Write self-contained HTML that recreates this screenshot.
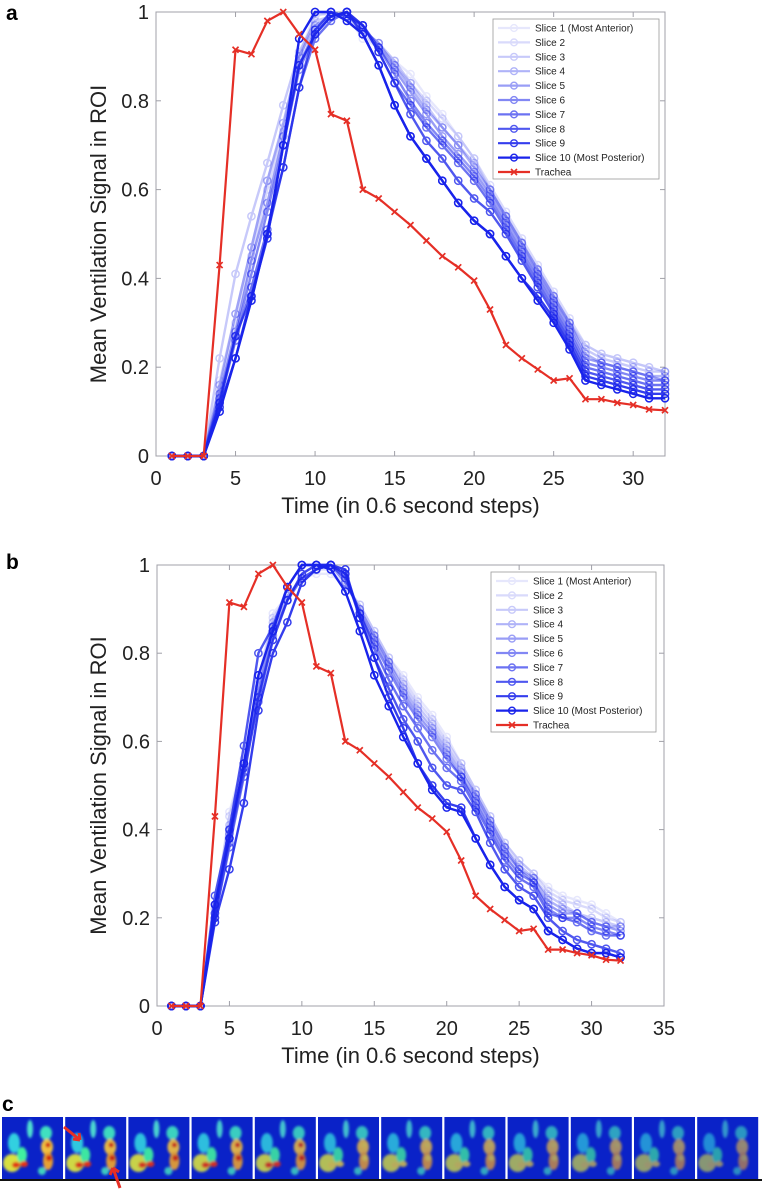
<!DOCTYPE html>
<html><head><meta charset="utf-8"><style>
html,body{margin:0;padding:0;background:#fff;}
svg{display:block;font-family:"Liberation Sans",Arial,sans-serif;}
</style></head><body>
<svg id="fig" width="762" height="1189" viewBox="0 0 762 1189" xmlns="http://www.w3.org/2000/svg">
<defs>
<filter id="blur" x="-20%" y="-20%" width="140%" height="140%"><feGaussianBlur stdDeviation="1.3"/></filter>
<clipPath id="tileclip"><rect x="0" y="0" width="61" height="62"/></clipPath>
</defs>
<text x="6" y="20" font-size="21" font-weight="bold">a</text>
<text x="6" y="569" font-size="21" font-weight="bold">b</text>
<text x="2" y="1111" font-size="21" font-weight="bold">c</text>
<g id="panelA"></g>
<g id="panelB"></g>
<g id="panelC"></g>
</svg>
<script>
const timeSteps = [1,2,3,4,5,6,7,8,9,10,11,12,13,14,15,16,17,18,19,20,21,22,23,24,25,26,27,28,29,30,31,32];
const seriesNames = ["Slice 1 (Most Anterior)","Slice 2","Slice 3","Slice 4","Slice 5","Slice 6","Slice 7","Slice 8","Slice 9","Slice 10 (Most Posterior)","Trachea"];
const tracheaValues = [0,0,0,0.43,0.915,0.905,0.98,1.0,0.95,0.915,0.77,0.755,0.60,0.58,0.55,0.52,0.485,0.45,0.425,0.395,0.33,0.25,0.22,0.195,0.17,0.175,0.128,0.128,0.12,0.115,0.105,0.103];
const aSlice1 = [0,0,0,0.17,0.32,0.47,0.62,0.74,0.90,1.0,0.99,0.99,0.94,0.92,0.89,0.86,0.81,0.77,0.72,0.67,0.60,0.54,0.48,0.41,0.35,0.30,0.25,0.23,0.22,0.21,0.20,0.19];
const aSlice2 = [0,0,0,0.15,0.30,0.45,0.60,0.73,0.89,0.99,1.0,0.99,0.95,0.92,0.88,0.84,0.80,0.76,0.72,0.67,0.61,0.55,0.49,0.43,0.37,0.31,0.25,0.23,0.22,0.21,0.20,0.19];
const aSlice3 = [0,0,0,0.22,0.41,0.54,0.66,0.79,0.91,0.98,0.99,1.0,0.96,0.93,0.89,0.84,0.79,0.74,0.70,0.66,0.60,0.54,0.48,0.42,0.36,0.30,0.24,0.22,0.21,0.20,0.19,0.19];
const aSlice4 = [0,0,0,0.16,0.32,0.47,0.62,0.75,0.90,0.97,0.99,1.0,0.96,0.93,0.88,0.83,0.78,0.74,0.70,0.65,0.60,0.54,0.48,0.42,0.36,0.30,0.23,0.21,0.20,0.19,0.18,0.18];
const aSlice5 = [0,0,0,0.14,0.28,0.44,0.57,0.72,0.88,0.96,0.99,1.0,0.97,0.92,0.87,0.82,0.77,0.72,0.68,0.64,0.59,0.53,0.47,0.41,0.35,0.29,0.22,0.21,0.20,0.19,0.18,0.17];
const aSlice6 = [0,0,0,0.13,0.27,0.41,0.55,0.70,0.87,0.95,0.99,1.0,0.97,0.92,0.86,0.80,0.75,0.71,0.67,0.63,0.58,0.52,0.46,0.40,0.34,0.28,0.21,0.20,0.19,0.18,0.17,0.17];
const aSlice7 = [0,0,0,0.12,0.26,0.38,0.51,0.65,0.83,0.94,0.98,1.0,0.97,0.91,0.84,0.79,0.74,0.70,0.66,0.62,0.57,0.51,0.45,0.39,0.33,0.27,0.20,0.19,0.18,0.17,0.16,0.16];
const aSlice8 = [0,0,0,0.12,0.27,0.36,0.50,0.65,0.83,0.96,1.0,0.99,0.97,0.91,0.84,0.77,0.71,0.67,0.62,0.58,0.55,0.50,0.44,0.38,0.32,0.26,0.19,0.18,0.17,0.16,0.15,0.15];
const aSlice9 = [0,0,0,0.11,0.22,0.36,0.49,0.70,0.88,0.95,0.99,1.0,0.95,0.88,0.79,0.72,0.67,0.62,0.57,0.53,0.50,0.45,0.40,0.36,0.31,0.25,0.18,0.17,0.16,0.15,0.14,0.14];
const aSlice10 = [0,0,0,0.10,0.22,0.35,0.50,0.70,0.94,1.0,1.0,0.98,0.95,0.88,0.79,0.72,0.67,0.62,0.57,0.53,0.50,0.45,0.40,0.35,0.30,0.24,0.17,0.16,0.15,0.14,0.13,0.13];
const bSlice1 = [0,0,0,0.22,0.44,0.56,0.74,0.89,0.93,0.97,0.98,0.98,0.95,0.91,0.85,0.79,0.75,0.70,0.66,0.61,0.55,0.49,0.43,0.37,0.33,0.30,0.27,0.25,0.24,0.23,0.21,0.19];
const bSlice2 = [0,0,0,0.22,0.43,0.55,0.73,0.88,0.93,0.97,0.99,0.99,0.95,0.91,0.85,0.79,0.74,0.69,0.65,0.60,0.55,0.49,0.43,0.37,0.33,0.30,0.26,0.24,0.23,0.22,0.20,0.19];
const bSlice3 = [0,0,0,0.21,0.41,0.55,0.72,0.87,0.93,0.97,0.99,1.0,0.96,0.90,0.84,0.78,0.73,0.68,0.64,0.59,0.54,0.48,0.42,0.36,0.32,0.29,0.25,0.23,0.21,0.20,0.19,0.18];
const bSlice4 = [0,0,0,0.21,0.40,0.54,0.71,0.86,0.92,0.97,0.99,1.0,0.96,0.90,0.84,0.78,0.72,0.67,0.63,0.58,0.53,0.48,0.42,0.36,0.31,0.29,0.24,0.22,0.21,0.19,0.18,0.18];
const bSlice5 = [0,0,0,0.21,0.39,0.54,0.70,0.84,0.92,0.97,0.99,1.0,0.97,0.89,0.83,0.77,0.71,0.66,0.62,0.57,0.52,0.47,0.41,0.35,0.31,0.28,0.23,0.21,0.21,0.19,0.18,0.17];
const bSlice6 = [0,0,0,0.20,0.37,0.53,0.69,0.83,0.92,0.98,1.0,1.0,0.97,0.89,0.82,0.76,0.70,0.65,0.61,0.56,0.52,0.46,0.40,0.34,0.30,0.28,0.22,0.20,0.20,0.18,0.17,0.16];
const bSlice7 = [0,0,0,0.20,0.36,0.52,0.70,0.83,0.92,0.98,1.0,1.0,0.98,0.89,0.81,0.74,0.68,0.63,0.58,0.54,0.51,0.45,0.39,0.33,0.29,0.27,0.21,0.20,0.19,0.17,0.16,0.16];
const bSlice8 = [0,0,0,0.25,0.40,0.59,0.80,0.86,0.95,1.0,1.0,1.0,0.98,0.88,0.79,0.72,0.65,0.60,0.54,0.50,0.49,0.44,0.37,0.31,0.27,0.25,0.20,0.17,0.15,0.14,0.13,0.12];
const bSlice9 = [0,0,0,0.19,0.31,0.46,0.67,0.80,0.87,0.96,0.99,1.0,0.99,0.88,0.79,0.70,0.63,0.55,0.50,0.46,0.45,0.38,0.32,0.27,0.24,0.22,0.17,0.15,0.13,0.12,0.12,0.11];
const bSlice10 = [0,0,0,0.23,0.38,0.55,0.75,0.85,0.95,1.0,1.0,0.99,0.94,0.85,0.75,0.68,0.61,0.55,0.49,0.45,0.44,0.38,0.32,0.27,0.24,0.22,0.17,0.15,0.13,0.12,0.12,0.11];
const yTicks = [0,0.2,0.4,0.6,0.8,1];
const yTickLabels = ["0","0.2","0.4","0.6","0.8","1"];
const xTicksA = [0,5,10,15,20,25,30];
const xTicksB = [0,5,10,15,20,25,30,35];

const NS = "http://www.w3.org/2000/svg";
function mk(tag, attrs, parent){const e=document.createElementNS(NS,tag);for(const k in attrs)e.setAttribute(k,attrs[k]);if(parent)parent.appendChild(e);return e;}
const sliceOpacity=[0.1,0.16,0.24,0.34,0.44,0.54,0.64,0.76,0.88,1.0];
const blue="rgb(25,35,235)", red="#e52f26";

function drawPanel(g, cfg){
  const xs=v=>cfg.x0+(v-cfg.xmin)/(cfg.xmax-cfg.xmin)*(cfg.x1-cfg.x0);
  const ys=v=>cfg.y0-(v-0)/(1-0)*(cfg.y0-cfg.y1);
  const box=mk('rect',{x:cfg.x0,y:cfg.y1,width:cfg.x1-cfg.x0,height:cfg.y0-cfg.y1,fill:'none',stroke:'#a0a0a8','stroke-width':1},g);
  
  
  cfg.xt.forEach(t=>{
    const X=xs(t);
    mk('line',{x1:X,x2:X,y1:cfg.y0,y2:cfg.y0-5,stroke:'#a0a0a8'},g);
    mk('line',{x1:X,x2:X,y1:cfg.y1,y2:cfg.y1+5,stroke:'#a0a0a8'},g);
    const tx=mk('text',{x:X,y:cfg.y0+29,'font-size':20,'text-anchor':'middle',fill:'#222'},g);
    tx.textContent=t;
    
    
  });
  yTicks.forEach((t,i)=>{
    const Y=ys(t);
    mk('line',{x1:cfg.x0,x2:cfg.x0+5,y1:Y,y2:Y,stroke:'#a0a0a8'},g);
    mk('line',{x1:cfg.x1,x2:cfg.x1-5,y1:Y,y2:Y,stroke:'#a0a0a8'},g);
    const tx=mk('text',{x:cfg.x0-7,y:Y+7,'font-size':20,'text-anchor':'end',fill:'#222'},g);
    tx.textContent=yTickLabels[i];
    
    
  });
  const xt=mk('text',{x:(cfg.x0+cfg.x1)/2,y:cfg.y0+57,'font-size':22,'text-anchor':'middle',fill:'#222'},g);
  xt.textContent="Time (in 0.6 second steps)";
  
  
  const cy=(cfg.y0+cfg.y1)/2;
  const yt=mk('text',{x:106,y:cy,'font-size':22,'text-anchor':'middle',fill:'#222',transform:`rotate(-90 106 ${cy})`},g);
  yt.textContent="Mean Ventilation Signal in ROI";
  
  
  cfg.slices.forEach((vals,k)=>{
    const sg=mk('g',{opacity:sliceOpacity[k]},g);
    
    
    const pts=vals.map((v,i)=>xs(timeSteps[i]).toFixed(1)+','+ys(v).toFixed(1)).join(' ');
    mk('polyline',{points:pts,fill:'none',stroke:blue,'stroke-width':2.4},sg);
    vals.forEach((v,i)=>{
      const c=mk('circle',{cx:xs(timeSteps[i]),cy:ys(v),r:3.6,fill:'none',stroke:blue,'stroke-width':1.5},sg);
      
      
    });
  });
  const tg=mk('g',{},g);
  
  
  const tp=tracheaValues.map((v,i)=>xs(timeSteps[i]).toFixed(1)+','+ys(v).toFixed(1)).join(' ');
  mk('polyline',{points:tp,fill:'none',stroke:red,'stroke-width':2.2},tg);
  tracheaValues.forEach((v,i)=>{
    const X=xs(timeSteps[i]),Y=ys(v);
    const m=mk('path',{d:`M${X-3},${Y-3}L${X+3},${Y+3}M${X-3},${Y+3}L${X+3},${Y-3}`,stroke:red,'stroke-width':1.7},tg);
    
    
  });
  const L=cfg.leg;
  const lg=mk('g',{},g);
  
  
  mk('rect',{x:L.x,y:L.y,width:L.w,height:L.h,fill:'#fff',stroke:'#999','stroke-width':0.8},lg);
  seriesNames.forEach((n,k)=>{
    const Y=L.y+9+k*L.step;
    const eg=mk('g',{opacity:k<10?sliceOpacity[k]:1},lg);
    
    
    const col=k<10?blue:red;
    mk('line',{x1:L.x+5,x2:L.x+37,y1:Y,y2:Y,stroke:col,'stroke-width':2.2},eg);
    if(k<10) mk('circle',{cx:L.x+21,cy:Y,r:3.4,fill:'none',stroke:col,'stroke-width':1.4},eg);
    else mk('path',{d:`M${L.x+18},${Y-3}L${L.x+24},${Y+3}M${L.x+18},${Y+3}L${L.x+24},${Y-3}`,stroke:col,'stroke-width':1.6},eg);
    const t=mk('text',{x:L.x+42,y:Y+3.5,'font-size':L.fs,fill:'#222'},lg);
    t.textContent=n;
    
    
  });
}

drawPanel(document.getElementById('panelA'),{x0:156,x1:665,xmin:0,xmax:32,y0:456,y1:12,xt:xTicksA,
  slices:[aSlice1,aSlice2,aSlice3,aSlice4,aSlice5,aSlice6,aSlice7,aSlice8,aSlice9,aSlice10],
  leg:{x:493,y:19,w:166,h:160,step:14.4,fs:10}});
drawPanel(document.getElementById('panelB'),{x0:157,x1:664,xmin:0,xmax:35,y0:1006,y1:565,xt:xTicksB,
  slices:[bSlice1,bSlice2,bSlice3,bSlice4,bSlice5,bSlice6,bSlice7,bSlice8,bSlice9,bSlice10],
  leg:{x:491,y:572,w:165,h:160,step:14.4,fs:10}});

const pc=document.getElementById('panelC');
const blobs=[[12,26,6,10,'#30d0e0'],[10,46,9,9,'#d8e040'],[20,38,5,8,'#40f0a0'],[28,12,3,9,'#50e0d0'],[44,16,6,7,'#40e0c0'],[45,30,6,8,'#f0c040'],[46,44,5,9,'#e8a030'],[40,54,4,4,'#40d0c0'],[14,48,4,3,'#e03018'],[22,47,4,3,'#e83018'],[46,28,2.5,2.5,'#d01010'],[47,41,3,3,'#d02010']];
for(let i=0;i<12;i++){
  const tg=mk('g',{transform:`translate(${2+i*63.2},1117)`},pc);
  
  
  mk('rect',{x:0,y:0,width:61,height:62,fill:'#0a22c8'},tg);
  const bg=mk('g',{filter:'url(#blur)','clip-path':'url(#tileclip)',opacity:(1-i*0.035).toFixed(2)},tg);
  blobs.forEach((b,j)=>{
    let col=b[4];
    if(i>4 && j>=8) col='#e8d040';
    mk('ellipse',{cx:b[0],cy:b[1],rx:b[2],ry:b[3],fill:col},bg);
  });
}
mk('rect',{x:0,y:1179,width:762,height:2,fill:'#111'},pc);
const ar1=mk('path',{d:'M64,1127 L80,1140 M80,1140 l-7,-1 M80,1140 l-1,-7',stroke:'#e52f26','stroke-width':3,fill:'none'},pc);


const ar2=mk('path',{d:'M120,1188 L113,1168 M113,1168 l-3,7 M113,1168 l6,4',stroke:'#e52f26','stroke-width':3,fill:'none'},pc);


</script>
</body></html>
